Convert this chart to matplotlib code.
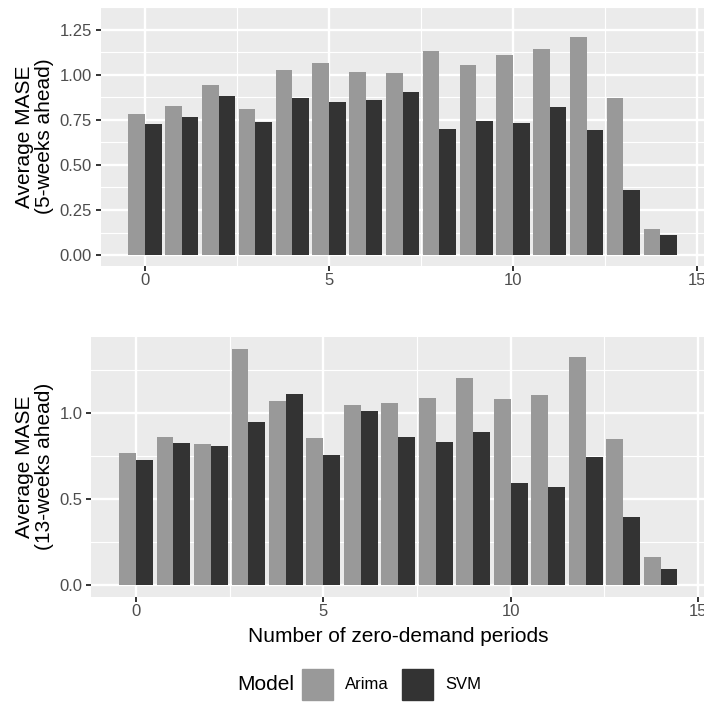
import numpy as np
import matplotlib
matplotlib.use("Agg")
import matplotlib.pyplot as plt
from matplotlib.patches import Rectangle

plt.rcParams['font.family'] = ['Liberation Sans', 'DejaVu Sans']

# Number of zero-demand periods
periods = list(range(15))

# Average MASE, 5-weeks-ahead horizon
arima_5w = [0.781, 0.828, 0.940, 0.807, 1.028, 1.064, 1.017, 1.012,
            1.130, 1.053, 1.110, 1.141, 1.207, 0.873, 0.145]
svm_5w = [0.725, 0.766, 0.884, 0.735, 0.869, 0.848, 0.858, 0.905,
          0.699, 0.745, 0.730, 0.822, 0.694, 0.361, 0.114]

# Average MASE, 13-weeks-ahead horizon
arima_13w = [0.769, 0.862, 0.821, 1.375, 1.072, 0.856, 1.049, 1.060,
             1.089, 1.206, 1.083, 1.107, 1.328, 0.850, 0.163]
svm_13w = [0.728, 0.827, 0.810, 0.950, 1.113, 0.757, 1.014, 0.862,
           0.833, 0.891, 0.594, 0.571, 0.746, 0.396, 0.093]

models = ["Arima", "SVM"]
colors = ["#999999", "#333333"]

x_ticks = [0, 5, 10, 15]
x_minor = [2.5, 7.5, 12.5]

W, H = 704, 704
DPI = 100
PANEL_BG = "#EBEBEB"
TICK_COL = "#4D4D4D"
TICK_FS = 12
TITLE_FS = 15


def px_rect(left, top, right, bottom):
    return [left / W, 1 - bottom / H, (right - left) / W, (bottom - top) / H]


fig = plt.figure(figsize=(W / DPI, H / DPI), dpi=DPI)


def panel(rect, a_vals, s_vals, yticks, yfmt, ylabel, xlabel=None):
    ax = fig.add_axes(rect)
    ax.set_facecolor(PANEL_BG)
    for s in ax.spines.values():
        s.set_visible(False)
    x = np.array(periods, dtype=float)
    dodge = 0.9
    bw = dodge / 2
    ax.bar(x - bw / 2, a_vals, width=bw, color=colors[0], zorder=3)
    ax.bar(x + bw / 2, s_vals, width=bw, color=colors[1], zorder=3)

    # ggplot-style 5% expansion of the data range
    xlo, xhi = x.min() - dodge / 2, x.max() + dodge / 2
    xr = xhi - xlo
    ax.set_xlim(xlo - 0.05 * xr, xhi + 0.05 * xr)
    ylo = min(0.0, min(a_vals), min(s_vals))
    yhi = max(max(a_vals), max(s_vals))
    yr = yhi - ylo
    ax.set_ylim(ylo - 0.05 * yr, yhi + 0.05 * yr)

    ax.set_xticks(x_ticks)
    ax.set_xticks(x_minor, minor=True)
    ax.set_yticks(yticks)
    ymin = [(yticks[i] + yticks[i + 1]) / 2 for i in range(len(yticks) - 1)]
    step = yticks[1] - yticks[0]
    ymin.append(yticks[-1] + step / 2)
    ax.set_yticks(ymin, minor=True)
    ax.set_yticklabels([yfmt.format(v) for v in yticks])
    ax.set_xticklabels([str(v) for v in x_ticks])

    ax.grid(which="major", color="white", linewidth=1.7, zorder=0)
    ax.grid(which="minor", color="white", linewidth=0.85, zorder=0)
    ax.set_axisbelow(True)

    ax.tick_params(which="major", length=3.4, width=1.4, color="#333333",
                   labelcolor=TICK_COL, labelsize=TICK_FS)
    ax.tick_params(axis="x", which="major", pad=1.5)
    ax.tick_params(axis="y", which="major", pad=3.0)
    ax.tick_params(which="minor", length=0)

    ax.set_ylabel(ylabel, fontsize=TITLE_FS, color="black", labelpad=4,
                  linespacing=1.05)
    if xlabel:
        ax.set_xlabel(xlabel, fontsize=TITLE_FS, color="black", labelpad=6)
    return ax


top = panel(px_rect(101, 7, 704.2, 266), arima_5w, svm_5w,
            [0.0, 0.25, 0.5, 0.75, 1.0, 1.25], "{:.2f}",
            "Average MASE\n(5-weeks ahead)")
bottom = panel(px_rect(91.2, 336.7, 705.4, 596.7), arima_13w, svm_13w,
               [0.0, 0.5, 1.0], "{:.1f}",
               "Average MASE\n(13-weeks ahead)",
               "Number of zero-demand periods")

# Legend along the bottom edge
row_y = 684.3
fig.text(237 / W, 1 - row_y / H, "Model", fontsize=TITLE_FS, ha="left",
         va="center")
key_lefts = [301.7, 402.0]
label_lefts = [345.0, 445.0]
key_size = 31.0
for name, col, kl, ll in zip(models, colors, key_lefts, label_lefts):
    fig.patches.append(Rectangle((kl / W, 1 - (row_y + key_size / 2) / H),
                                 key_size / W, key_size / H,
                                 transform=fig.transFigure, color=col))
    fig.text(ll / W, 1 - row_y / H, name, fontsize=TICK_FS, ha="left",
             va="center")

fig.savefig("out.png", dpi=DPI)
